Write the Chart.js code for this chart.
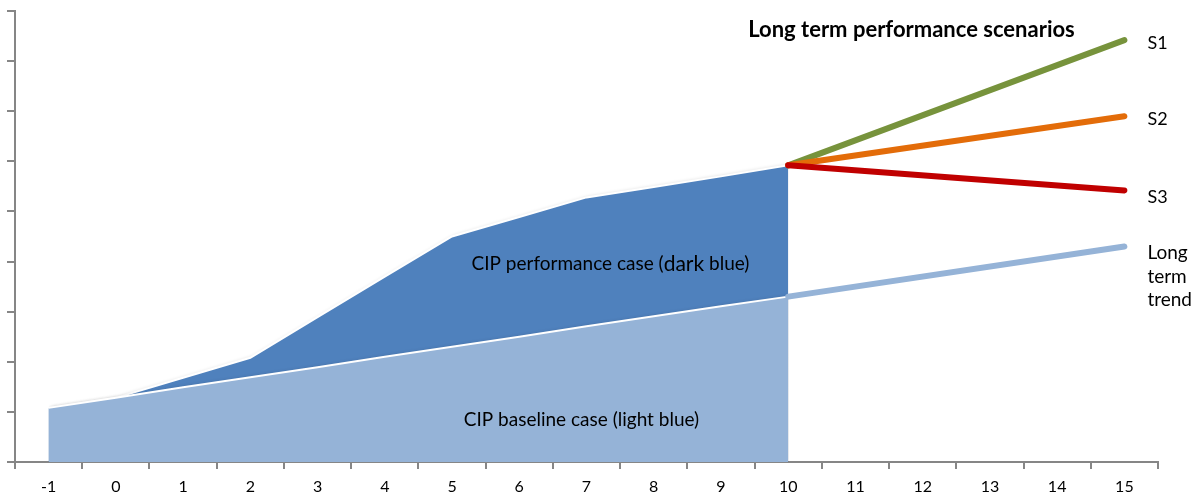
<!DOCTYPE html>
<html>
<head>
<meta charset="utf-8">
<script src="https://cdn.jsdelivr.net/npm/chart.js@4/dist/chart.umd.min.js"></script>
<style>
    html, body { margin: 0; padding: 0; background: #ffffff; }
    #wrap { width: 1200px; height: 495px; }
</style>
</head>
<body>
<div id="wrap"><canvas id="scenarioChart" width="1200" height="495"></canvas></div>
<script>
    // categories (years)
    const years = ['-1', '0', '1', '2', '3', '4', '5', '6', '7', '8', '9', '10', '11', '12', '13', '14', '15'];

    // CIP cases
    const baselineCase = [1.08, 1.28, 1.49, 1.69, 1.89, 2.10, 2.30, 2.50, 2.71, 2.91, 3.11, 3.30, null, null, null, null, null];
    const performanceCase = [1.08, 1.28, 1.68, 2.08, 2.89, 3.70, 4.50, 4.89, 5.28, 5.49, 5.70, 5.92, null, null, null, null, null];

    // long term scenarios (start at year 10, end at year 15)
    const scenarioS1 = [null, null, null, null, null, null, null, null, null, null, null, 5.92, null, null, null, null, 8.42];
    const scenarioS2 = [null, null, null, null, null, null, null, null, null, null, null, 5.92, null, null, null, null, 6.90];
    const scenarioS3 = [null, null, null, null, null, null, null, null, null, null, null, 5.92, null, null, null, null, 5.42];
    const longTermTrend = [null, null, null, null, null, null, null, null, null, null, null, 3.30, null, null, null, null, 4.30];

    const axisGrey = '#868686';
    const textFont = 'Lato, "Open Sans", sans-serif';

    function lineSet(label, data, color, order) {
        return {
            label: label,
            data: data,
            borderColor: color,
            borderWidth: 6,
            borderCapStyle: 'round',
            borderJoinStyle: 'round',
            pointRadius: 0,
            spanGaps: true,
            fill: false,
            order: order
        };
    }

    function shadowOn(c) {
        c.shadowColor = 'rgba(0, 0, 0, 0.22)';
        c.shadowBlur = 4;
        c.shadowOffsetX = 2;
        c.shadowOffsetY = 0;
    }

    // soft shadow behind the two area fills only (filler runs before this plugin)
    const areaShadow = {
        id: 'areaShadow',
        beforeDatasetsDraw: function (chart) {
            chart.ctx.save();
            shadowOn(chart.ctx);
        },
        beforeDatasetDraw: function (chart) {
            chart.ctx.shadowColor = 'rgba(0, 0, 0, 0)';
        },
        afterDatasetDraw: function (chart, args) {
            if (args.index === 0) {
                shadowOn(chart.ctx);
            }
            if (args.index === 1) {
                chart.ctx.restore();
            }
        }
    };

    // texts drawn on top of the chart
    const annotationText = {
        id: 'annotationText',
        afterDatasetsDraw: function (chart) {
            const ctx = chart.ctx;
            const x = chart.scales.x;
            const y = chart.scales.y;
            ctx.save();
            ctx.shadowColor = 'rgba(0, 0, 0, 0)';
            ctx.fillStyle = '#000000';
            ctx.textBaseline = 'middle';

            // title
            ctx.textAlign = 'left';
            ctx.font = 'bold 22px ' + textFont;
            ctx.fillText('Long term performance scenarios', x.getPixelForValue(11) - 40, y.getPixelForValue(8.62));

            // scenario names at the right
            ctx.font = '18px ' + textFont;
            let lx = x.getPixelForValue(16) + 23;
            ctx.fillText('S1', lx, y.getPixelForValue(8.36));
            ctx.fillText('S2', lx, y.getPixelForValue(6.84));
            ctx.fillText('S3', lx, y.getPixelForValue(5.28));
            ctx.font = '19px ' + textFont;
            ctx.fillText('Long', lx, y.getPixelForValue(4.18));
            ctx.fillText('term', lx, y.getPixelForValue(3.70));
            ctx.fillText('trend', lx, y.getPixelForValue(3.24));

            // area labels
            ctx.textAlign = 'left';
            ctx.font = '19px ' + textFont;
            let part1 = 'CIP performance case (';
            let part2 = 'dark';
            let part3 = ' blue)';
            let w1 = ctx.measureText(part1).width;
            let w3 = ctx.measureText(part3).width;
            ctx.font = '21px ' + textFont;
            let w2 = ctx.measureText(part2).width;
            let startX = x.getPixelForValue(8) + 24 - (w1 + w2 + w3) / 2;
            let py = y.getPixelForValue(3.95);
            ctx.font = '19px ' + textFont;
            ctx.fillText(part1, startX, py);
            ctx.font = '21px ' + textFont;
            ctx.fillText(part2, startX + w1, py);
            ctx.font = '19px ' + textFont;
            ctx.fillText(part3, startX + w1 + w2, py);

            ctx.textAlign = 'center';
            ctx.fillText('CIP baseline case (light blue)', x.getPixelForValue(8) - 5, y.getPixelForValue(0.84));
            ctx.restore();
        }
    };

    const ctx = document.getElementById('scenarioChart').getContext('2d');
    const scenarioChart = new Chart(ctx, {
        type: 'line',
        data: {
            labels: years,
            datasets: [
                {
                    label: 'CIP performance case',
                    data: performanceCase,
                    backgroundColor: '#4F81BD',
                    borderColor: '#ffffff',
                    borderWidth: 2,
                    pointRadius: 0,
                    fill: 'origin',
                    order: 6
                },
                {
                    label: 'CIP baseline case',
                    data: baselineCase,
                    backgroundColor: '#95B3D7',
                    borderColor: '#ffffff',
                    borderWidth: 2,
                    pointRadius: 0,
                    fill: 'origin',
                    order: 5
                },
                lineSet('Long term trend', longTermTrend, '#95B3D7', 4),
                lineSet('S1', scenarioS1, '#77933C', 3),
                lineSet('S2', scenarioS2, '#E36C09', 2),
                lineSet('S3', scenarioS3, '#C00000', 1)
            ]
        },
        options: {
            responsive: false,
            animation: false,
            layout: {
                padding: {left: 7, top: 11, right: 42, bottom: 0}
            },
            plugins: {
                legend: {display: false},
                tooltip: {enabled: false}
            },
            scales: {
                x: {
                    type: 'category',
                    offset: true,
                    afterFit: function (scale) {
                        scale.height = 33;
                    },
                    border: {color: axisGrey, width: 2},
                    grid: {
                        offset: true,
                        drawOnChartArea: false,
                        drawTicks: true,
                        tickLength: 7,
                        color: axisGrey,
                        lineWidth: 2
                    },
                    ticks: {
                        color: '#000000',
                        padding: 8,
                        font: {size: 16, family: textFont},
                        maxRotation: 0,
                        autoSkip: false
                    }
                },
                y: {
                    min: 0,
                    max: 9,
                    border: {color: axisGrey, width: 2},
                    grid: {
                        drawOnChartArea: false,
                        drawTicks: true,
                        tickLength: 8,
                        color: axisGrey,
                        lineWidth: 2
                    },
                    ticks: {
                        display: false,
                        stepSize: 1
                    }
                }
            }
        },
        plugins: [areaShadow, annotationText]
    });
</script>
</body>
</html>
